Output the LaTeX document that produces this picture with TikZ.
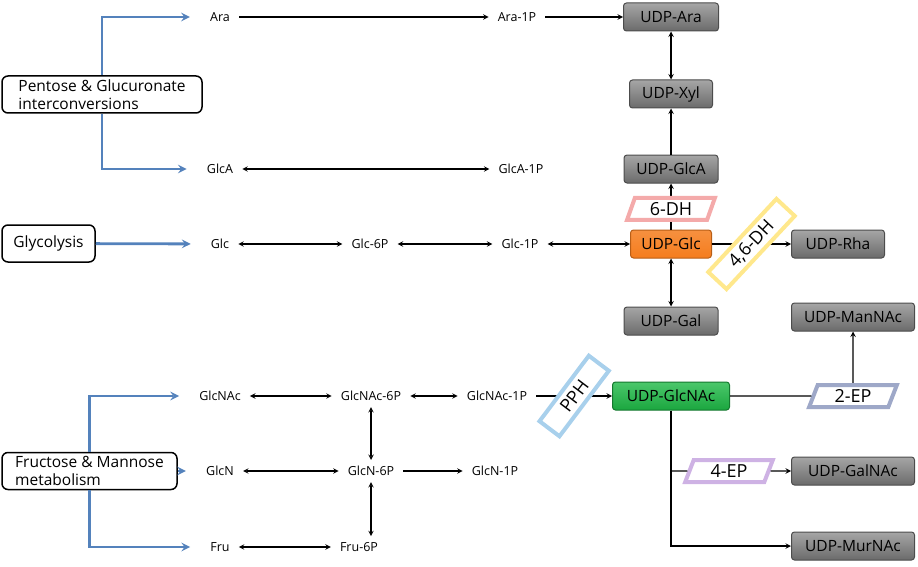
\documentclass[tikz,border=0pt]{standalone}
\usepackage{fontspec}
\setmainfont{Open Sans}
\usetikzlibrary{shapes.geometric, arrows, positioning}
\definecolor{feedblue}{RGB}{84,130,188}
\definecolor{glcorange}{RGB}{245,125,30}
\definecolor{glcnacgreen}{RGB}{30,185,70}
\definecolor{dhred}{RGB}{244,170,170}
\definecolor{dhyellow}{RGB}{255,232,140}
\definecolor{pphblue}{RGB}{168,208,236}
\definecolor{epblue}{RGB}{158,168,200}
\definecolor{eppurple}{RGB}{206,178,228}
\tikzstyle{met} = [inner xsep=9pt, 
inner ysep=6pt, 
font=\fontsize{12.5}{14}\selectfont]
\tikzstyle{udp} = [rectangle, rounded corners=3pt, 
minimum height=28pt, 
text centered, 
draw=black!70, line width=1pt, 
top color=black!35, bottom color=black!58, 
font=\fontsize{15.5}{17}\selectfont]
\tikzstyle{glcbox} = [draw=glcorange!75!black, top color=glcorange!85!white, bottom color=glcorange]
\tikzstyle{glcnacbox} = [draw=glcnacgreen!65!black, top color=glcnacgreen!80!white, bottom color=glcnacgreen!90!black]
\tikzstyle{pathway} = [rectangle, rounded corners=6pt, 
minimum height=37pt, 
align=left, 
draw=black, line width=1.5pt, 
fill=white, 
font=\fontsize{15.5}{18}\selectfont]
\tikzstyle{enzyme} = [trapezium, 
trapezium stretches=true, 
trapezium left angle=75, 
trapezium right angle=105, 
minimum width=88pt, 
minimum height=22pt, text centered, 
line width=4pt, fill=white, 
font=\fontsize{18}{20}\selectfont]
\tikzstyle{tilted} = [rectangle, minimum height=25pt, inner sep=2pt]
\tikzstyle{arrow} = [line width=1.4pt,->,>=stealth]
\tikzstyle{dbl} = [line width=1.4pt,<->,>=stealth]
\tikzstyle{link} = [line width=1.4pt]
\tikzstyle{feed} = [line width=2.8pt,->,>=stealth, draw=feedblue, shorten >=11pt]

\begin{document}
\begin{tikzpicture}[x=1pt, y=1pt, node distance=150pt]
\useasboundingbox (0,0) rectangle (918,-567);

% UDP-sugars
\node (uara) [udp, minimum width=95pt] at (671,-17) {UDP-Ara};
\node (uxyl) [udp, minimum width=83pt, node distance=77pt, below of=uara] {UDP-Xyl};
\node (uglca) [udp, minimum width=94pt, node distance=75pt, below of=uxyl] {UDP-GlcA};
\node (uglc) [udp, glcbox, minimum width=81pt, node distance=75pt, below of=uglca] {UDP-Glc};
\node (ugal) [udp, minimum width=94pt, node distance=77pt, below of=uglc] {UDP-Gal};
\node (uglcnac) [udp, glcnacbox, minimum width=117pt, node distance=75pt, below of=ugal] {UDP-GlcNAc};
\node (urha) [udp, minimum width=93pt, right of=uglc, xshift=17pt] {UDP-Rha};
\node (umannac) [udp, minimum width=123pt] at (853,-317) {UDP-ManNAc};
\node (ugalnac) [udp, minimum width=123pt] at (853,-471) {UDP-GalNAc};
\node (umurnac) [udp, minimum width=123pt] at (853,-546) {UDP-MurNAc};

% sugars and phosphates
\node (ara) [met] at (220,-17) {Ara};
\node (ara1p) [met, right of=ara, xshift=147pt] {Ara-1P};
\node (glca) [met] at (220,-169) {GlcA};
\node (glca1p) [met, right of=glca, xshift=151pt] {GlcA-1P};
\node (glc) [met] at (220,-244) {Glc};
\node (glc6p) [met, right of=glc] {Glc-6P};
\node (glc1p) [met, right of=glc6p] {Glc-1P};
\node (glcnac) [met] at (220,-396) {GlcNAc};
\node (glcnac6p) [met, right of=glcnac, xshift=1pt] {GlcNAc-6P};
\node (glcnac1p) [met, right of=glcnac6p, xshift=-24pt] {GlcNAc-1P};
\node (glcn) [met] at (220,-471) {GlcN};
\node (glcn6p) [met, right of=glcn, xshift=1pt] {GlcN-6P};
\node (glcn1p) [met, right of=glcn6p, xshift=-26pt] {GlcN-1P};
\node (fru) [met] at (220,-547) {Fru};
\node (fru6p) [met, right of=fru, xshift=-11pt] {Fru-6P};

% pathways
\node (pentose) [pathway, minimum width=200pt] at (102,-94.5) {Pentose \& Glucuronate\\interconversions};
\node (glycolysis) [pathway, minimum width=93pt] at (48.5,-243.5) {Glycolysis};
\node (fructose) [pathway, minimum width=175pt] at (89.5,-471) {Fructose \& Mannose\\metabolism};

\node (twoep) [enzyme, draw=epblue, right of=uglcnac, xshift=32pt] {2-EP};
\node (fourep) [enzyme, draw=eppurple] at (729,-471) {4-EP};

\draw [feed] (pentose.north) |- (ara);
\draw [feed] (pentose.south) |- (glca);
\draw [feed] (glycolysis) -- (glc);
\draw [feed] (fructose.north) |- (glcnac);
\draw [feed] (fructose) -- (glcn);
\draw [feed] (fructose.south) |- (fru);

\draw [arrow] (ara) -- (ara1p);
\draw [arrow] (ara1p) -- (uara);
\draw [dbl] (uara) -- (uxyl);
\draw [arrow] (uglca) -- (uxyl);
\draw [dbl] (glca) -- (glca1p);
\draw [arrow] (uglc) -- node[enzyme, draw=dhred, pos=0.45] (dh6) {6-DH} (uglca);
\draw [dbl] (glc) -- (glc6p);
\draw [dbl] (glc6p) -- (glc1p);
\draw [dbl] (glc1p) -- (uglc);
\draw [arrow] (uglc) -- node[enzyme, tilted, draw=dhyellow, rotate=47, minimum width=100pt] (dh46) {4,6-DH} (urha);
\draw [dbl] (uglc) -- (ugal);
\draw [dbl] (glcnac) -- (glcnac6p);
\draw [dbl] (glcnac6p) -- (glcnac1p);
\draw [arrow] (glcnac1p) -- node[enzyme, tilted, draw=pphblue, rotate=53, minimum width=82pt] (pph) {PPH} (uglcnac);
\draw [dbl] (glcnac6p) -- (glcn6p);
\draw [dbl] (glcn) -- (glcn6p);
\draw [arrow] (glcn6p) -- (glcn1p);
\draw [dbl] (glcn6p) -- (fru6p.north -| glcn6p);
\draw [dbl] (fru) -- (fru6p);
\draw [link] (uglcnac) -- (twoep);
\draw [arrow] (twoep) -- (umannac);
\draw [arrow] (uglcnac) |- (umurnac);
\draw [link] (uglcnac |- fourep) -- (fourep);
\draw [arrow] (fourep) -- (ugalnac);

\end{tikzpicture}
\end{document}
